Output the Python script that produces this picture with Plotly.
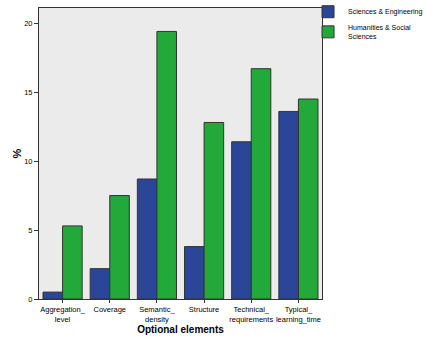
import plotly.graph_objects as go

categories = ["Aggregation_<br>level", "Coverage", "Semantic_<br>density", "Structure",
              "Technical_<br>requirements", "Typical_<br>learning_time"]
sci_eng = [0.5, 2.2, 8.7, 3.8, 11.4, 13.6]
hum_soc = [5.3, 7.5, 19.4, 12.8, 16.7, 14.5]
series_names = ["Sciences & Engineering", "Humanities & Social<br>Sciences"]
y_ticks = [0, 5, 10, 15, 20]

W, H = 432, 345
L, R = 39, 0
plot_right = 322

fig = go.Figure()
fig.add_trace(go.Bar(x=categories, y=sci_eng, name=series_names[0],
                     marker=dict(color="#2B4599", line=dict(color="#333333", width=1))))
fig.add_trace(go.Bar(x=categories, y=hum_soc, name=series_names[1],
                     marker=dict(color="#22A93A", line=dict(color="#333333", width=1))))

dom_end = (plot_right - L) / (W - L - R)

fig.update_layout(
    width=W, height=H,
    margin=dict(l=L, r=R, t=8, b=46, autoexpand=False),
    paper_bgcolor="white", plot_bgcolor="#EBEBEB",
    barmode="group", bargap=0.17, bargroupgap=0,
    font=dict(family="Arial, Liberation Sans, sans-serif", size=8, color="black"),
    legend=dict(x=dom_end - 0.005, y=1.037, xanchor="left", yanchor="top", font=dict(size=7),
                bgcolor="rgba(0,0,0,0)", tracegroupgap=0, itemwidth=30, indentation=-12,
                traceorder="normal"),
    xaxis=dict(domain=[0, dom_end], showline=True, linecolor="#333333", linewidth=1, mirror=True,
               ticks="outside", ticklen=3, tickcolor="#333333", tickangle=0,
               title=dict(text="<b>Optional elements</b>", font=dict(size=10), standoff=0),
               tickfont=dict(size=7.5)),
    yaxis=dict(range=[0, 21.1], tickvals=y_ticks, showgrid=False, zeroline=False,
               showline=True, linecolor="#333333", linewidth=1, mirror=True,
               ticks="outside", ticklen=4, tickcolor="#333333",
               title=dict(text="<b>%</b>", font=dict(size=11), standoff=0),
               tickfont=dict(size=7.5)),
)
fig.write_html("out.html")
